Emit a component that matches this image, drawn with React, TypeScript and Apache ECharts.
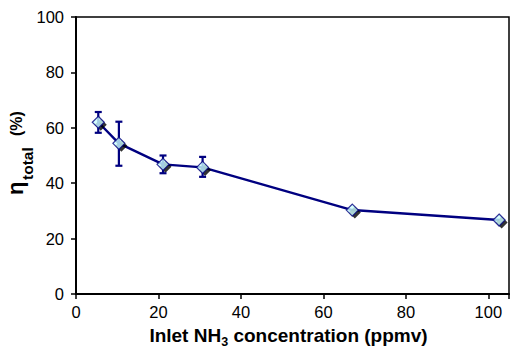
import React, { useEffect, useRef } from "react";
import * as echarts from "echarts";

// Inlet NH3 concentration (ppmv) and total removal efficiency (%)
const inletNH3 = [5.4, 10.4, 21.1, 30.7, 67.0, 102.6];
const etaTotal = [62.0, 54.4, 46.8, 45.7, 30.3, 26.7];
// Error bar bounds (low, high); null where no bar is drawn
const errLow: (number | null)[] = [58.2, 46.3, 43.6, 42.3, null, null];
const errHigh: (number | null)[] = [65.7, 62.2, 50.0, 49.5, null, null];
const xTicks = [0, 20, 40, 60, 80, 100];
const yTicks = [0, 20, 40, 60, 80, 100];

const NAVY = "#000080";
const FONT = "Liberation Sans, Arial, sans-serif";

export default function App() {
  const ref = useRef<HTMLDivElement>(null);

  useEffect(() => {
    if (!ref.current) return;
    const chart = echarts.init(ref.current, undefined, { renderer: "svg" });

    const points = inletNH3.map((x, i) => [x, etaTotal[i]]);
    const bars = inletNH3
      .map((x, i) => [x, errLow[i], errHigh[i]])
      .filter((d) => d[1] !== null && d[2] !== null);

    const bold = (size: number) => `bold ${size}px ${FONT}`;

    chart.setOption({
      animation: false,
      grid: {
        left: 76,
        top: 17,
        right: 1,
        bottom: 53,
        outerBoundsMode: "none",
        containLabel: false,
        show: true,
        borderColor: "#000",
        borderWidth: 1.5,
        backgroundColor: "#fff",
      },
      // vertical title: eta with "total" subscript, then (%)
      graphic: [
        {
          type: "group",
          x: 0,
          y: 195,
          rotation: Math.PI / 2,
          children: [
            { type: "text", x: 0, y: 15, style: { text: "η", font: bold(22), fill: "#000", align: "left", verticalAlign: "middle" } },
            { type: "text", x: 15, y: 27.5, style: { text: "total", font: bold(15.5), fill: "#000", align: "left", verticalAlign: "middle" } },
            { type: "text", x: 59, y: 16, style: { text: "(%)", font: bold(16), fill: "#000", align: "left", verticalAlign: "middle" } },
          ],
        },
      ],
      xAxis: {
        type: "value",
        min: 0,
        max: 105,
        interval: 20,
        splitLine: { show: false },
        axisLine: { lineStyle: { color: "#000", width: 2 } },
        axisTick: { inside: false, length: 5, lineStyle: { color: "#000", width: 1.5 } },
        axisLabel: {
          color: "#000",
          fontFamily: FONT,
          fontSize: 16.5,
          margin: 9,
          formatter: (v: number) => (xTicks.includes(v) ? String(v) : ""),
        },
        name: "{b|Inlet NH}{s|3}{b| concentration (ppmv)}",
        nameLocation: "middle",
        nameGap: 28.5,
        nameTextStyle: {
          padding: [0, 8, 0, 0],
          rich: {
            b: { fontFamily: FONT, fontSize: 19, fontWeight: "bold", color: "#000" },
            s: { fontFamily: FONT, fontSize: 12.5, fontWeight: "bold", color: "#000", padding: [12.5, 0, 0, 0] },
          },
        },
      },
      yAxis: {
        type: "value",
        min: 0,
        max: 100,
        interval: 20,
        splitLine: { show: false },
        axisLine: { lineStyle: { color: "#000", width: 2 } },
        axisTick: { inside: false, length: 5, lineStyle: { color: "#000", width: 1.5 } },
        axisLabel: {
          color: "#000",
          fontFamily: FONT,
          fontSize: 16.5,
          margin: 12,
          formatter: (v: number) => (yTicks.includes(v) ? String(v) : ""),
        },
      },
      series: [
        {
          type: "line",
          data: points,
          showSymbol: false,
          lineStyle: { color: NAVY, width: 2.4 },
          z: 2,
        },
        {
          // drop shadow under the markers
          type: "scatter",
          data: points,
          symbol: "diamond",
          symbolSize: 12,
          symbolOffset: [2.5, 2.5],
          itemStyle: { color: "#000" },
          z: 3,
        },
        {
          type: "custom",
          data: bars,
          z: 4,
          renderItem: (params: any, api: any) => {
            const x = api.value(0);
            const lo = api.coord([x, api.value(1)]);
            const hi = api.coord([x, api.value(2)]);
            const cap = 3.5;
            const style = { stroke: NAVY, lineWidth: 2.2 };
            return {
              type: "group",
              children: [
                { type: "line", shape: { x1: lo[0], y1: lo[1], x2: hi[0], y2: hi[1] }, style },
                { type: "line", shape: { x1: lo[0] - cap, y1: lo[1], x2: lo[0] + cap, y2: lo[1] }, style },
                { type: "line", shape: { x1: hi[0] - cap, y1: hi[1], x2: hi[0] + cap, y2: hi[1] }, style },
              ],
            };
          },
        },
        {
          type: "scatter",
          data: points,
          symbol: "diamond",
          symbolSize: 12,
          itemStyle: { color: "#ccffff", borderColor: NAVY, borderWidth: 1.2 },
          z: 5,
        },
      ],
    });

    return () => chart.dispose();
  }, []);

  return <div ref={ref} style={{ width: 510, height: 347, position: "absolute", left: 0, top: 0 }} />;
}
